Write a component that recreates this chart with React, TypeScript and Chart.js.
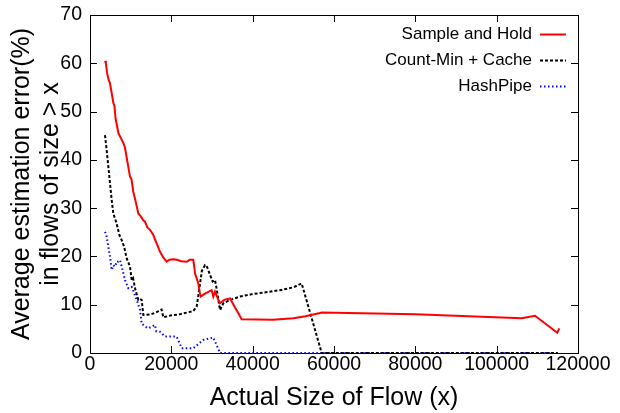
import React, { useEffect, useRef } from "react";
import { Chart, registerables } from "chart.js";

Chart.register(...registerables);

// ---- Data ----
const seriesLabels = ["Sample and Hold", "Count-Min + Cache", "HashPipe"];

const sampleHoldX = [
  3700, 3900, 4200, 4600, 4900, 5300, 5740, 6000, 6300, 7000, 7600, 8200, 8600, 9000, 9840, 10200,
  10650, 11200, 11880, 12500, 13100, 13520, 14100, 14750, 15170, 15600, 15980, 16400, 17200,
  18000, 18850, 19500, 20500, 21300, 22500, 23770, 24500, 25400, 25700, 25820, 26640, 27000,
  27200, 28280, 29920, 30330, 30740, 31560, 31970, 33000, 34430, 37300, 45000, 50000, 53000,
  56560, 57000, 80000, 106150, 109430, 114900, 115400,
];
const sampleHoldY = [
  60.5, 60.0, 58.0, 56.5, 55.9, 54.0, 51.8, 51.2, 48.5, 45.5, 44.5, 43.5, 42.5, 40.6, 36.5, 36.0,
  33.4, 31.5, 28.9, 28.3, 27.5, 27.2, 26.0, 25.5, 25.0, 24.4, 23.5, 22.7, 21.0,
  19.8, 18.9, 19.3, 19.4, 19.3, 19.0, 18.9, 19.3, 19.3, 17.5, 16.5, 14.4, 12.5,
  11.7, 12.3, 13.0, 11.7, 12.7, 11.0, 10.3, 11.0, 11.3, 7.0, 6.9, 7.2, 7.6,
  8.3, 8.4, 8.0, 7.2, 7.7, 4.2, 5.1,
];

const countMinX = [
  3690, 4100, 4510, 4920, 5330, 5740, 6560, 7200, 7790, 8400, 9020, 9840, 10250, 10600, 11070,
  11880, 12300, 12700, 13110, 15000, 16500, 17210, 17600, 18030, 20000, 22000, 25400, 26230,
  27000, 27500, 28280, 28700, 29510, 30160, 30740, 31200, 31970, 32790, 34500, 36890, 40000,
  46720, 50000, 52050, 56970, 115000,
];
const countMinY = [
  45.1, 42.0, 38.6, 35.1, 31.7, 28.9, 26.8, 24.5, 23.4, 22.0, 19.6, 17.9, 15.1, 15.5, 13.4,
  11.0, 11.2, 11.0, 7.9, 8.0, 8.5, 8.9, 9.0, 7.4, 7.8, 8.0, 8.7, 9.6,
  14.0, 17.0, 18.2, 18.0, 16.2, 14.8, 15.1, 13.0, 8.9, 10.3, 11.0, 11.7, 12.2,
  13.0, 13.6, 14.4, 0, 0,
];

const hashPipeX = [
  3690, 4000, 4500, 4920, 5330, 5740, 6150, 6600, 6970, 7400, 7790, 8610, 9430, 10250, 10800,
  11480, 12300, 12700, 13500, 14340, 15980, 16300, 17210, 18440, 21310, 22540, 25400, 27870,
  30330, 31970, 115000,
];
const hashPipeY = [
  25.1, 24.5, 22.0, 20.0, 17.2, 18.2, 17.9, 19.0, 18.9, 19.2, 17.9, 15.1, 13.4, 13.7, 12.5,
  11.0, 8.9, 6.1, 5.5, 5.1, 5.8, 4.5, 4.4, 3.4, 3.4, 1.0, 1.0, 2.7,
  3.2, 0, 0,
];

const xTickValues = [0, 20000, 40000, 60000, 80000, 100000, 120000];
const yTickValues = [0, 10, 20, 30, 40, 50, 60, 70];

const xTitle = "Actual Size of Flow (x)";
const yTitle = ["Average estimation error(%)", "in flows of size > x"];

const FONT = "'Liberation Sans', Arial, Helvetica, sans-serif";

const toPoints = (xs: number[], ys: number[]) => xs.map((x, i) => ({ x, y: ys[i] }));

const framePlugin = {
  id: "gnuFrame",
  beforeDatasetsDraw(chart: any) {
    const { ctx, chartArea: a, scales } = chart;
    ctx.save();
    ctx.strokeStyle = "#000";
    ctx.lineWidth = 1;
    const L = 7;
    ctx.beginPath();
    for (const v of xTickValues) {
      const px = Math.round(scales.x.getPixelForValue(v)) + 0.5;
      ctx.moveTo(px, a.bottom);
      ctx.lineTo(px, a.bottom - L);
      ctx.moveTo(px, a.top);
      ctx.lineTo(px, a.top + L);
    }
    for (const v of yTickValues) {
      const py = Math.round(scales.y.getPixelForValue(v)) + 0.5;
      ctx.moveTo(a.left, py);
      ctx.lineTo(a.left + L, py);
      ctx.moveTo(a.right, py);
      ctx.lineTo(a.right - L, py);
    }
    ctx.stroke();
    ctx.strokeRect(
      Math.round(a.left) + 0.5,
      Math.round(a.top) + 0.5,
      Math.round(a.right - a.left),
      Math.round(a.bottom - a.top)
    );
    ctx.restore();
  },
  afterDraw(chart: any) {
    const { ctx, chartArea: a } = chart;
    ctx.save();
    ctx.font = `17px ${FONT}`;
    ctx.textAlign = "right";
    ctx.textBaseline = "middle";
    const textRight = a.right - 46;
    const lineStart = a.right - 38;
    const lineEnd = a.right - 12;
    chart.data.datasets.forEach((ds: any, i: number) => {
      const y = a.top + 19.5 + i * 26;
      ctx.fillStyle = "#000";
      ctx.fillText(ds.label, textRight, y);
      ctx.beginPath();
      ctx.strokeStyle = ds.borderColor;
      ctx.lineWidth = ds.borderWidth;
      ctx.setLineDash(ds.borderDash || []);
      ctx.moveTo(lineStart, y);
      ctx.lineTo(lineEnd, y);
      ctx.stroke();
    });
    ctx.restore();
  },
};

export default function App() {
  const canvasRef = useRef<HTMLCanvasElement | null>(null);

  useEffect(() => {
    if (!canvasRef.current) return;
    const chart = new Chart(canvasRef.current, {
      type: "line",
      data: {
        datasets: [
          {
            label: seriesLabels[0],
            data: toPoints(sampleHoldX, sampleHoldY),
            borderColor: "#ff0000",
            borderWidth: 2,
            pointRadius: 0,
            tension: 0,
            clip: 6,
          },
          {
            label: seriesLabels[1],
            data: toPoints(countMinX, countMinY),
            borderColor: "#000000",
            borderWidth: 2,
            borderDash: [3, 2],
            pointRadius: 0,
            tension: 0,
            clip: 6,
          },
          {
            label: seriesLabels[2],
            data: toPoints(hashPipeX, hashPipeY),
            borderColor: "#0000ff",
            borderWidth: 2,
            borderDash: [1.5, 2.5],
            pointRadius: 0,
            tension: 0,
            clip: 6,
          },
        ] as any,
      },
      options: {
        animation: false,
        responsive: false,
        parsing: true,
        layout: { padding: { top: 15, right: 42, left: 0, bottom: 0 } },
        plugins: {
          legend: { display: false },
          tooltip: { enabled: false },
        },
        scales: {
          x: {
            type: "linear",
            min: 0,
            max: 120000,
            afterBuildTicks: (s: any) => {
              s.ticks = xTickValues.map((v) => ({ value: v }));
            },
            afterFit: (s: any) => {
              s.height = 60;
            },
            grid: { display: false, drawTicks: false },
            border: { display: false },
            ticks: {
              autoSkip: false,
              maxRotation: 0,
              padding: 0,
              color: "#000",
              font: { family: FONT, size: 19.5 },
              callback: (v: any) => String(v),
            },
            title: {
              display: true,
              text: xTitle,
              color: "#000",
              font: { family: FONT, size: 25 },
              padding: { top: 0, bottom: 0 },
            },
          },
          y: {
            type: "linear",
            min: 0,
            max: 70,
            afterBuildTicks: (s: any) => {
              s.ticks = yTickValues.map((v) => ({ value: v }));
            },
            afterFit: (s: any) => {
              s.width = 90;
              s.paddingTop = 0;
              s.paddingBottom = 0;
            },
            grid: { display: false, drawTicks: false },
            border: { display: false },
            ticks: {
              autoSkip: false,
              padding: 8,
              color: "#000",
              font: { family: FONT, size: 19.5 },
              callback: (v: any) => String(v),
            },
            title: {
              display: true,
              text: yTitle,
              color: "#000",
              font: { family: FONT, size: 25, lineHeight: 1.15 },
              padding: { top: 8, bottom: 0 },
            },
          },
        },
      },
      plugins: [framePlugin],
    });
    return () => chart.destroy();
  }, []);

  return (
    <div style={{ position: "fixed", left: 0, top: 0, width: 620, height: 413, background: "#fff" }}>
      <canvas ref={canvasRef} width={620} height={413} />
    </div>
  );
}
